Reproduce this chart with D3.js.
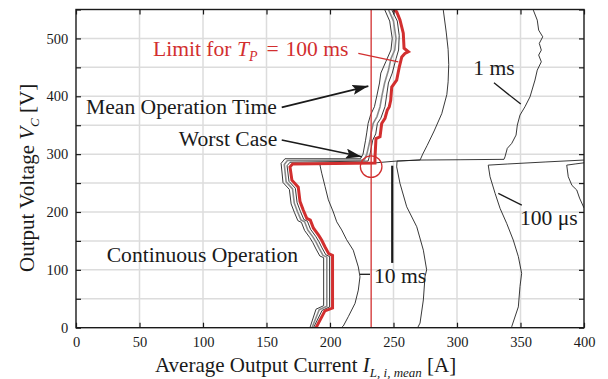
<!DOCTYPE html>
<html>
<head>
<meta charset="utf-8">
<script src="https://cdn.jsdelivr.net/npm/d3@7"></script>
<style>
  body { margin: 0; background: #fff; }
  svg { display: block; }
  text { font-family: "Liberation Serif", "Times New Roman", serif; fill: #1a1a1a; }
</style>
</head>
<body>
<svg id="chart" width="608" height="379"></svg>
<script>
// Axis ticks
const xTickValues = [0, 50, 100, 150, 200, 250, 300, 350, 400];
const yTickValues = [0, 50, 100, 150, 200, 250, 300, 350, 400, 450, 500, 550];
const yLabelValues = [0, 100, 200, 300, 400, 500];

// Permissible-operation contours: [average current A, output voltage V]
const limit100ms = [[189,0],[196,29],[202,34],[202,125],[199,128],[196,140],[193.5,151],[191,160],[187,172],[184.5,186],[181.7,189],[179,203],[176.4,218],[175,243],[170,255],[168.5,278],[170.5,283],[235.4,284.5],[235.4,293],[236.2,327],[239.4,330],[240.7,353],[243.3,362],[245.1,376],[246.7,382],[247.8,393],[248.6,416],[252.5,428],[254.6,451],[256.5,468],[259,474],[261.7,477],[258.3,483],[257.7,509],[255.1,532],[252.5,546],[250,550]];

const mean100msInner = [[187,0],[193.8,30],[199.7,36],[199.7,123],[196.7,126],[193.7,138],[191.2,149],[188.7,158],[184.7,170],[182.2,184],[179.4,187],[176.7,201],[174.1,216],[172.7,241],[167.7,253],[166.2,280],[168.5,286],[230,288],[231.5,300],[233.6,324],[236,335],[237.3,353],[240,362],[243.3,382],[244.5,400],[246,423],[249,440],[252,465],[254,480],[254.5,505],[253,530],[248.5,550]];
const mean100msMid = [[185.8,0],[191.5,31],[197.5,37],[197.5,122],[194.5,125],[191.5,137],[189,148],[186.5,157],[182.5,169],[180,183],[177.2,186],[174.5,200],[171.9,215],[170.5,240],[165.5,252],[164,282],[166.5,289],[227,290],[229,300],[231.5,324],[232.5,338],[234,353],[237,365],[239.4,382],[241,402],[243,423],[246,445],[248,465],[251,480],[252,500],[250,530],[246,550]];
const worst100ms = [[184.2,0],[189,32],[195,38],[195,121],[192,124],[189,136],[186.5,147],[184,156],[180,168],[177.5,182],[174.7,185],[172,199],[169.4,214],[168,239],[163,251],[161.5,284],[164.5,292],[224,292],[226,300],[228,324],[229,338],[230,353],[232,368],[235,382],[237,402],[239,423],[240,440],[244,460],[248,480],[249,500],[247,530],[243,550]];

const contour10ms = [[209,0],[210.5,3],[214.4,19],[219.7,42],[222.3,65],[223.6,88],[222.3,105],[218.3,134],[213.1,152],[209.2,169],[205.3,183],[202.6,200],[198.7,221],[196.1,244],[193.5,267],[192.1,281],[194,283],[236,285],[252,288],[271,290],[273,300],[276.5,315],[282,340],[288,370],[292,403],[293,425],[293.5,455],[293,481],[291.5,511],[289.2,549],[289,550]];
const contour1ms = [[269,0],[270.9,8],[273.5,48],[274.8,88],[276.1,100],[273.5,134],[268.3,174.5],[260.4,209],[255.1,249.5],[252.5,278],[252.8,288],[270.9,289.8],[302.4,290.3],[337,291],[337.8,295.4],[339.6,310],[343.1,318.6],[346.5,332.9],[347.5,350.2],[349.6,367.5],[353.5,381.8],[357.5,399.1],[361.4,428],[363.2,445.2],[366.4,459.6],[364.3,471.2],[366.4,479.8],[364.8,491.4],[367.5,502.8],[364.3,514.3],[363.2,531.6],[360.1,548.9],[360,550]];
const contour100us = [[342.5,0],[343.1,2],[348.3,36],[349.6,71],[350.9,94],[348.3,123],[344.3,151.5],[339.1,180.4],[333.9,206.3],[330,232.2],[326,261],[324.6,281],[340,283],[370,286.5],[400,289.8]];
const contourOuter = [[400,285],[393,283],[386.4,281],[387.6,261],[390.5,246],[394.3,238],[396.5,224],[400,207]];

// Current limit and worst-case operating point
const limitCurrent = 232.4;
const worstPoint = [232.4, 278.5];

const svg = d3.select("#chart");
const x = d3.scaleLinear().domain([0, 400]).range([76, 584]);
const y = d3.scaleLinear().domain([0, 550]).range([327.7, 9.5]);
const RED = "#d22f2f";
const ANN_SIZE = "21.6px";

const defs = svg.append("defs");
defs.append("clipPath").attr("id", "plot-clip")
  .append("rect").attr("x", x(0)).attr("y", y(550))
  .attr("width", x(400) - x(0)).attr("height", y(0) - y(550));
defs.append("marker").attr("id", "arrow")
  .attr("viewBox", "0 0 16 10").attr("refX", 16).attr("refY", 5)
  .attr("markerWidth", 16).attr("markerHeight", 10)
  .attr("markerUnits", "userSpaceOnUse").attr("orient", "auto")
  .append("path").attr("d", "M0,0 L16,5 L0,10 L3,5 Z").attr("fill", "#1a1a1a");

// Grid
const grid = svg.append("g").attr("stroke", "#dcdcdc").attr("stroke-width", 1.5);
grid.selectAll(".gx").data(xTickValues.slice(1, -1)).join("line")
  .attr("x1", d => x(d)).attr("x2", d => x(d)).attr("y1", y(0)).attr("y2", y(550));
grid.selectAll(".gy").data(yTickValues.slice(1, -1)).join("line")
  .attr("y1", d => y(d)).attr("y2", d => y(d)).attr("x1", x(0)).attr("x2", x(400));

const line = d3.line().x(d => x(d[0])).y(d => y(d[1]));
const plot = svg.append("g").attr("clip-path", "url(#plot-clip)");

// Thin contours
[contour10ms, contour1ms, contour100us, contourOuter].forEach(c => {
  plot.append("path").attr("d", line(c)).attr("fill", "none")
    .attr("stroke", "#222").attr("stroke-width", 0.9).attr("stroke-linejoin", "round");
});

// 100 ms bundle
plot.append("path").attr("d", line(worst100ms)).attr("fill", "none")
  .attr("stroke", "#222").attr("stroke-width", 0.9).attr("stroke-linejoin", "round");
plot.append("path").attr("d", line(mean100msMid)).attr("fill", "none")
  .attr("stroke", "#8a8a8a").attr("stroke-width", 1.6).attr("stroke-linejoin", "round");
plot.append("path").attr("d", line(mean100msInner)).attr("fill", "none")
  .attr("stroke", "#222").attr("stroke-width", 0.9).attr("stroke-linejoin", "round");

// Limit line
plot.append("line").attr("x1", x(limitCurrent)).attr("x2", x(limitCurrent))
  .attr("y1", y(0)).attr("y2", y(550)).attr("stroke", RED).attr("stroke-width", 1.3);

plot.append("path").attr("d", line(limit100ms)).attr("fill", "none")
  .attr("stroke", RED).attr("stroke-width", 3).attr("stroke-linejoin", "miter");

plot.append("circle").attr("cx", x(worstPoint[0])).attr("cy", y(worstPoint[1]))
  .attr("r", 10.8).attr("fill", "none").attr("stroke", RED).attr("stroke-width", 1.3);

// Leaders
const leaders = [
  { from: [329.1, 423.3], to: [350.2, 386.5], color: "#1a1a1a", w: 1.3 },
  { from: [332.5, 232.2], to: [351, 212], color: "#1a1a1a", w: 1.3 },
  { from: [223.6, 92.3], to: [231.5, 92.3], color: "#1a1a1a", w: 1.3 },
  { from: [249, 280], to: [249, 112], color: "#1a1a1a", w: 2.2 },
  { from: [222.3, 474.1], to: [253.8, 459.6], color: RED, w: 1.2 }
];
svg.selectAll(".leader").data(leaders).join("line")
  .attr("x1", d => x(d.from[0])).attr("y1", d => y(d.from[1]))
  .attr("x2", d => x(d.to[0])).attr("y2", d => y(d.to[1]))
  .attr("stroke", d => d.color).attr("stroke-width", d => d.w);

const arrows = [
  { from: [162, 380.8], to: [230.2, 417.6] },
  { from: [162, 324.3], to: [225, 295.4] }
];
svg.selectAll(".arrow").data(arrows).join("line")
  .attr("x1", d => x(d.from[0])).attr("y1", d => y(d.from[1]))
  .attr("x2", d => x(d.to[0])).attr("y2", d => y(d.to[1]))
  .attr("stroke", "#1a1a1a").attr("stroke-width", 1.6).attr("marker-end", "url(#arrow)");

// Frame
svg.append("rect").attr("x", x(0)).attr("y", y(550))
  .attr("width", x(400) - x(0)).attr("height", y(0) - y(550))
  .attr("fill", "none").attr("stroke", "#1a1a1a").attr("stroke-width", 1.4);

// Axes with inward ticks
function styleAxis(g) {
  g.select(".domain").remove();
  g.selectAll(".tick line").attr("stroke", "#1a1a1a").attr("stroke-width", 1.2);
  g.selectAll("text").attr("font-size", "14.5px").attr("fill", "#1a1a1a")
    .attr("font-family", "'Liberation Serif','Times New Roman',serif");
}
svg.append("g").attr("transform", `translate(0,${y(0)})`)
  .call(d3.axisBottom(x).tickValues(xTickValues).tickSizeInner(-5).tickSizeOuter(0).tickPadding(8.7))
  .call(styleAxis);
svg.append("g").attr("transform", `translate(0,${y(550)})`)
  .call(d3.axisTop(x).tickValues(xTickValues).tickSizeInner(-5).tickSizeOuter(0).tickFormat(""))
  .call(styleAxis);
svg.append("g").attr("transform", `translate(${x(0)},0)`)
  .call(d3.axisLeft(y).tickValues(yTickValues).tickSizeInner(-5).tickSizeOuter(0).tickPadding(7.7)
    .tickFormat(d => yLabelValues.includes(d) ? d : ""))
  .call(styleAxis);
svg.append("g").attr("transform", `translate(${x(400)},0)`)
  .call(d3.axisRight(y).tickValues(yTickValues).tickSizeInner(-5).tickSizeOuter(0).tickFormat(""))
  .call(styleAxis);

// Axis titles
const xt = svg.append("text").attr("x", 155).attr("y", 372).attr("font-size", "21px");
xt.append("tspan").text("Average Output Current ");
xt.append("tspan").attr("font-style", "italic").text("I");
xt.append("tspan").attr("font-style", "italic").attr("font-size", "13px").attr("dy", 5).text("L, i, mean");
xt.append("tspan").attr("dy", -5).text(" [A]");

const yt = svg.append("text").attr("transform", "translate(34,272) rotate(-90)").attr("font-size", "21px");
yt.append("tspan").text("Output Voltage ");
yt.append("tspan").attr("font-style", "italic").text("V");
yt.append("tspan").attr("font-style", "italic").attr("font-size", "13px").attr("dy", 5).text("C");
yt.append("tspan").attr("dy", -5).text(" [V]");

// Annotations
const ann = svg.append("g").attr("font-size", ANN_SIZE);
const lim = ann.append("text").attr("x", x(60.6)).attr("y", y(469.4)).style("fill", RED);
lim.append("tspan").text("Limit for ");
lim.append("tspan").attr("font-style", "italic").text("T");
lim.append("tspan").attr("font-style", "italic").attr("font-size", "14px").attr("dy", 5).text("P");
lim.append("tspan").attr("dy", -5).attr("dx", 3.5).text(" =");
lim.append("tspan").attr("dx", 1.5).text(" 100 ms");

const labels = [
  { t: "Mean Operation Time", p: [7.9, 369] },
  { t: "Worst Case", p: [81, 314] },
  { t: "Continuous Operation", p: [24.2, 113.5] },
  { t: "1 ms", p: [312.8, 436.6] },
  { t: "10 ms", p: [234.6, 77.7] },
  { t: "100 μs", p: [349.6, 177] }
];
ann.selectAll(".lbl").data(labels).join("text")
  .attr("x", d => x(d.p[0])).attr("y", d => y(d.p[1])).text(d => d.t);
</script>
</body>
</html>
